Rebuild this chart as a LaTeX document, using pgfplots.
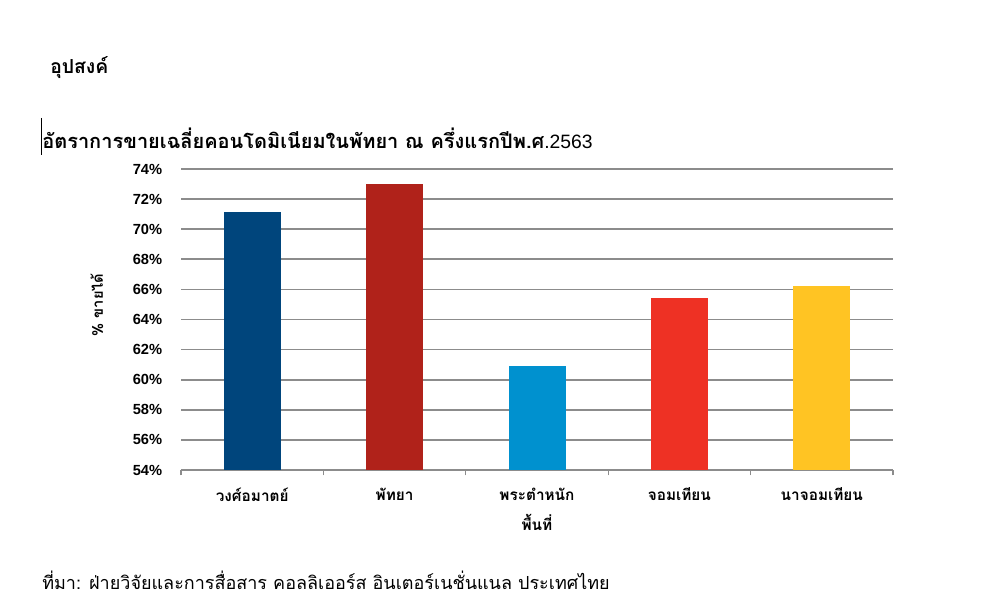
\documentclass[border=0pt]{standalone}
\usepackage{pgfplots}
\pgfplotsset{compat=1.18}
\usepackage{fontspec}
\setmainfont{Liberation Sans}
\newfontfamily\thaifont[Script=Thai]{Loma}
\definecolor{cA}{HTML}{00457C}
\definecolor{cB}{HTML}{B0221A}
\definecolor{cC}{HTML}{0091CF}
\definecolor{cD}{HTML}{EE3124}
\definecolor{cE}{HTML}{FFC423}
\definecolor{gridc}{HTML}{8C8C8C}
\begin{document}
\begin{tikzpicture}
\path (0,0) rectangle (750pt,459pt);
\node[anchor=west,inner sep=0pt] at (37.5pt,408pt) {\thaifont\bfseries\fontsize{14.5}{16}\selectfont อุปสงค์};
\node[anchor=west,inner sep=0pt] at (31.5pt,355.5pt) {\thaifont\bfseries\fontsize{15}{17}\selectfont อัตราการขายเฉลี่ยคอนโดมิเนียมในพัทยา ณ ครึ่งแรกปีพ.ศ{\normalfont\fontsize{14.5}{17}\selectfont .2563}};
\draw[black,line width=0.5pt] (30.75pt,370.5pt) -- (30.75pt,342.75pt);
\node[anchor=west,inner sep=0pt] at (31.5pt,24pt) {\thaifont\fontsize{13.5}{15}\selectfont ที่มา: ฝ่ายวิจัยและการสื่อสาร คอลลิเออร์ส อินเตอร์เนชั่นแนล ประเทศไทย};
\begin{axis}[
  at={(135.75pt,106.5pt)}, anchor=south west,
  scale only axis, width=534pt, height=225.75pt,
  xmin=-0.5, xmax=4.5, ymin=54, ymax=74,
  ytick={54,56,...,74},
  yticklabel={\pgfmathprintnumber{\tick}\%},
  yticklabel style={anchor=east, xshift=-8.5pt, font=\bfseries\fontsize{11}{13}\selectfont},
  /pgf/number format/assume math mode=true,
  ytick style={draw=none},
  ymajorgrids, grid style={gridc, line width=1.3pt},
  xtick={0,1,2,3,4},
  xticklabels={วงศ์อมาตย์,พัทยา,พระตำหนัก,จอมเทียน,นาจอมเทียน},
  xticklabel style={font=\thaifont\bfseries\fontsize{11.5}{13}\selectfont, anchor=center, yshift=-14pt},
  major x tick style={draw=none},
  minor xtick={-0.5,0.5,...,4.5},
  minor x tick style={gridc, line width=0.8pt},
  minor tick length=4pt,
  xtick align=outside,
  axis lines=left,
  x axis line style={gridc, line width=0.8pt, -},
  y axis line style={draw=none},
  xlabel={พื้นที่},
  xlabel style={font=\thaifont\bfseries\fontsize{11.5}{13}\selectfont, at={(axis description cs:0.5,0)}, anchor=center, yshift=-39pt},
  ylabel={\% ขายได้},
  ylabel style={font=\thaifont\bfseries\fontsize{11}{13}\selectfont, at={(axis description cs:0,0.5)}, anchor=center, yshift=63pt, xshift=11pt},
  ybar, bar width=42.75pt, bar shift=0pt,
  clip=false,
]
\addplot[fill=cA, draw=none] coordinates {(0,71.15)};
\addplot[fill=cB, draw=none] coordinates {(1,73.0)};
\addplot[fill=cC, draw=none] coordinates {(2,60.9)};
\addplot[fill=cD, draw=none] coordinates {(3,65.4)};
\addplot[fill=cE, draw=none] coordinates {(4,66.2)};
\end{axis}
\end{tikzpicture}
\end{document}
